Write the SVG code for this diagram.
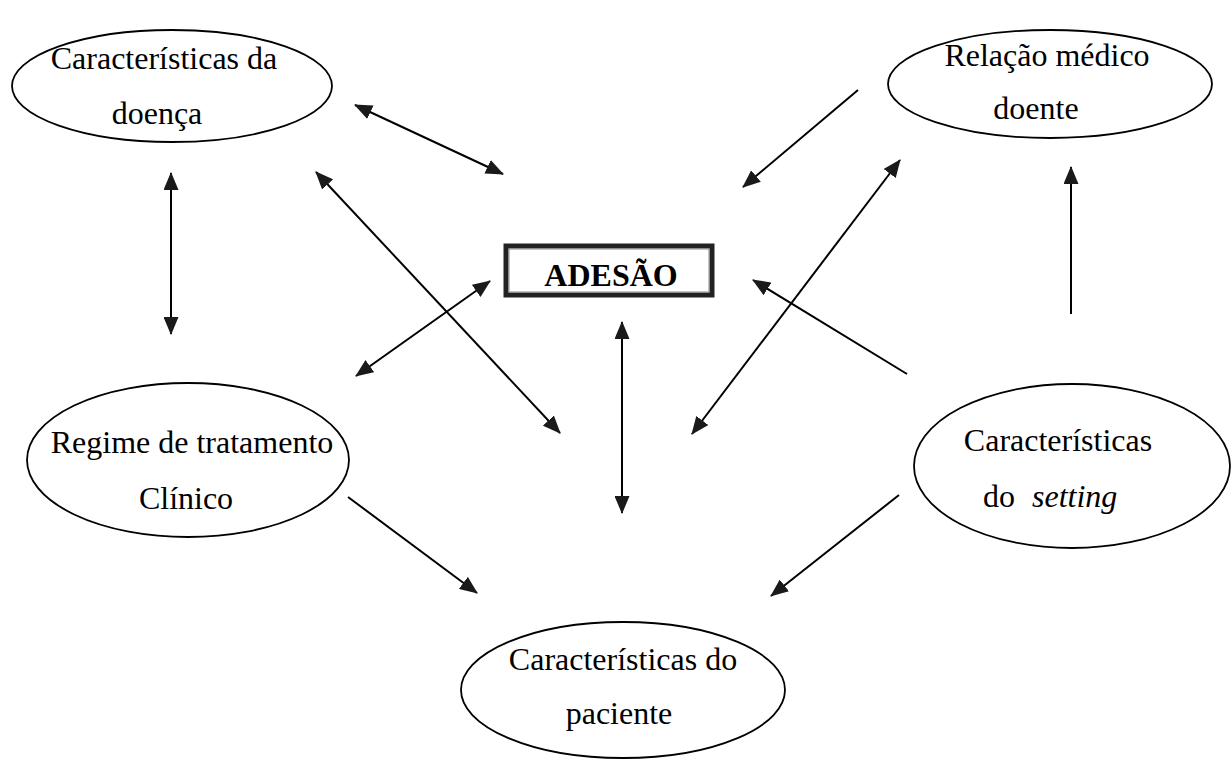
<svg xmlns="http://www.w3.org/2000/svg" width="1232" height="760" viewBox="0 0 1232 760">
<defs>
<marker id="ah" markerUnits="userSpaceOnUse" markerWidth="18" markerHeight="15" refX="17" refY="7.5" orient="auto-start-reverse" viewBox="0 0 18 15">
<path d="M0,0 L18,7.5 L0,15 Z" fill="#1a1a1a"/>
</marker>
</defs>
<style>
.node ellipse{fill:none;stroke:#000;stroke-width:1.8}
.lbl{font-family:"Liberation Serif","Times New Roman",serif;font-size:32px;fill:#000;text-anchor:middle}
.lbs{font-family:"Liberation Serif","Times New Roman",serif;font-size:32px;fill:#000}
.one{fill:none;stroke:#000;stroke-width:2;marker-end:url(#ah)}
.two{fill:none;stroke:#000;stroke-width:2;marker-start:url(#ah);marker-end:url(#ah)}
</style>
<rect width="1232" height="760" fill="#fff"/>
<g id="doenca" class="node">
<ellipse cx="172" cy="86" rx="160" ry="56"/>
<text class="lbl" x="164" y="69">Características da</text>
<text class="lbl" x="157" y="124">doença</text>
</g>
<g id="relacao" class="node">
<ellipse cx="1050" cy="84" rx="162" ry="54"/>
<text class="lbl" x="1047" y="66">Relação médico</text>
<text class="lbl" x="1036" y="119">doente</text>
</g>
<g id="adesao">
<rect x="506" y="246" width="206" height="49" fill="#fff" stroke="#222" stroke-width="5"/>
<rect x="509" y="249" width="200" height="43" fill="none" stroke="#888" stroke-width="1"/>
<text x="611" y="286" text-anchor="middle" font-family="Liberation Serif, Times New Roman, serif" font-size="32" font-weight="bold">ADESÃO</text>
</g>
<g id="regime" class="node">
<ellipse cx="188" cy="460" rx="161" ry="77"/>
<text class="lbl" x="192" y="453">Regime de tratamento</text>
<text class="lbl" x="186" y="509">Clínico</text>
</g>
<g id="setting" class="node">
<ellipse cx="1072" cy="466" rx="158" ry="82"/>
<text class="lbl" x="1058" y="451">Características</text>
<text class="lbs" x="983" y="507">do <tspan x="1032" font-style="italic">setting</tspan></text>
</g>
<g id="paciente" class="node">
<ellipse cx="623" cy="690" rx="162" ry="68"/>
<text class="lbl" x="623" y="670">Características do</text>
<text class="lbl" x="619" y="724">paciente</text>
</g>
<g id="connectors">
<line class="two" x1="355" y1="105" x2="503" y2="174"/>
<line class="two" x1="171" y1="173" x2="171" y2="334"/>
<line class="two" x1="316" y1="172" x2="560" y2="433"/>
<line class="two" x1="356" y1="376" x2="490" y2="281"/>
<line class="one" x1="858" y1="90" x2="743" y2="187"/>
<line class="two" x1="900" y1="160" x2="692" y2="434"/>
<line class="one" x1="907" y1="374" x2="753" y2="280"/>
<line class="two" x1="622" y1="322" x2="622" y2="513"/>
<line class="one" x1="1071" y1="314" x2="1071" y2="167"/>
<line class="one" x1="348" y1="497" x2="477" y2="593"/>
<line class="one" x1="899" y1="495" x2="771" y2="596"/>
</g>
</svg>
